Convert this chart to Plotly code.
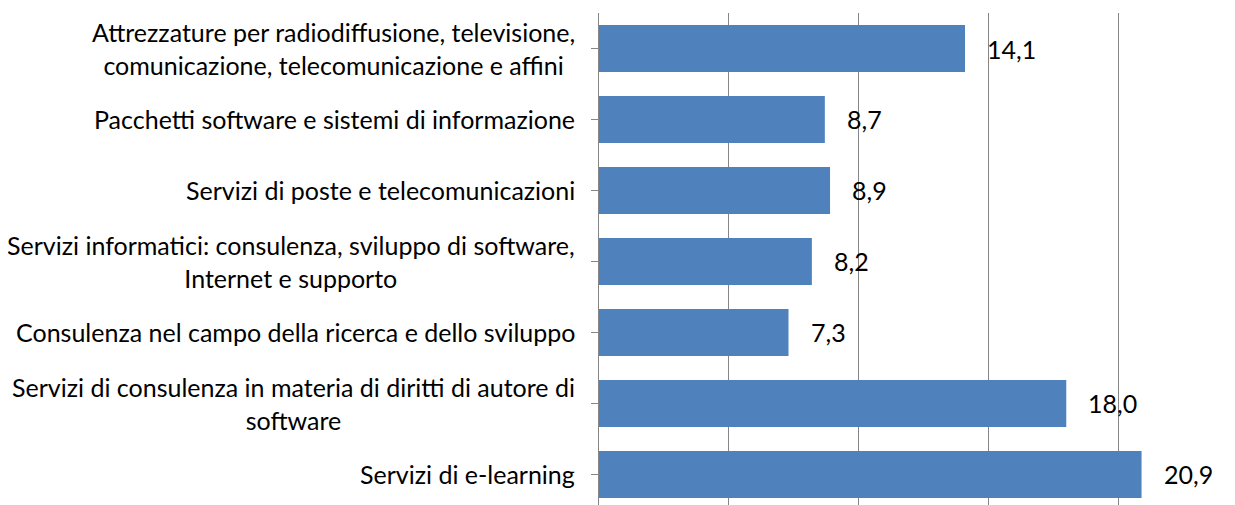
import plotly.graph_objects as go

categories = [
    "Attrezzature per radiodiffusione, televisione,<br>comunicazione, telecomunicazione e affini",
    "Pacchetti software e sistemi di informazione",
    "Servizi di poste e telecomunicazioni",
    "Servizi informatici: consulenza, sviluppo di software,<br>Internet e supporto",
    "Consulenza nel campo della ricerca e dello sviluppo",
    "Servizi di consulenza in materia di diritti di autore di<br>software",
    "Servizi di e-learning",
]
values = [14.1, 8.7, 8.9, 8.2, 7.3, 18.0, 20.9]
value_labels = ["14,1", "8,7", "8,9", "8,2", "7,3", "18,0", "20,9"]

FONT = "Lato"
FS = 25
GRID = "#868686"

fig = go.Figure()
fig.add_trace(go.Bar(
    x=values, y=list(range(len(categories))), orientation="h",
    marker=dict(color="#4F81BD", line=dict(width=0)),
    width=0.66, hoverinfo="skip",
))

annotations = []
for i, (c, v, t) in enumerate(zip(categories, values, value_labels)):
    annotations.append(dict(
        x=0, xref="paper", y=i, yref="y", text=c, showarrow=False,
        xanchor="right", yanchor="middle", align="center", xshift=-22,
        font=dict(family=FONT, size=FS, color="black"),
    ))
    annotations.append(dict(
        x=v, xref="x", y=i, yref="y", text=t, showarrow=False,
        xanchor="left", yanchor="middle", xshift=20,
        font=dict(family=FONT, size=FS, color="black"),
    ))

fig.update_layout(
    width=1227, height=497,
    margin=dict(l=591, r=0, t=5, b=0),
    plot_bgcolor="white", paper_bgcolor="white",
    showlegend=False,
    annotations=annotations,
    xaxis=dict(range=[0, 24.5], dtick=5, tick0=0, showgrid=True, gridcolor=GRID,
               gridwidth=1, showticklabels=False, zeroline=False, showline=False,
               ticks=""),
    yaxis=dict(range=[6.43, -0.5], tickmode="array",
               tickvals=list(range(len(categories))), showticklabels=False,
               tickson="boundaries", ticks="outside", ticklen=7, tickcolor=GRID,
               showline=True, linecolor=GRID, linewidth=1, showgrid=False,
               zeroline=False),
)

fig.write_html("out.html")
